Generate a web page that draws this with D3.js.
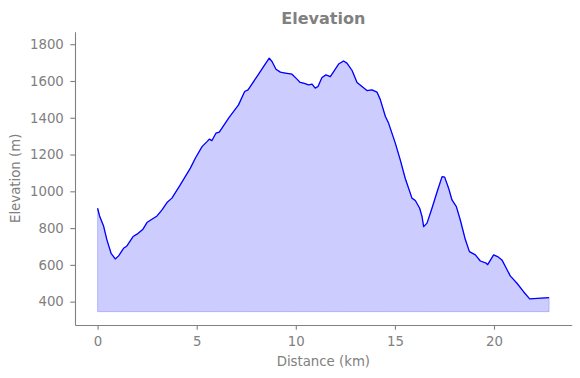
<!DOCTYPE html>
<html>
<head>
<meta charset="utf-8">
<script src="https://cdn.jsdelivr.net/npm/d3@7"></script>
<style>
  html, body { margin: 0; padding: 0; background: #fff; }
  svg { display: block; font-family: "DejaVu Sans", sans-serif; }
</style>
</head>
<body>
<svg id="chart" width="580" height="378"></svg>
<script>
// ─── data ─────────────────────────────────────────────────────────────────────
const distanceKm = [
  0, 0.1, 0.3, 0.47, 0.68, 0.89, 1.06, 1.31, 1.48, 1.79, 1.99, 2.29, 2.49, 2.74,
  3.0, 3.25, 3.5, 3.75, 4.17, 4.68, 4.93, 5.27, 5.52, 5.64, 5.77, 5.97, 6.14,
  6.61, 7.11, 7.42, 7.59, 8.04, 8.38, 8.66, 8.8, 9.0, 9.22, 9.47, 9.81, 10.06,
  10.22, 10.39, 10.65, 10.82, 10.98, 11.12, 11.32, 11.52, 11.74, 11.91, 12.16,
  12.41, 12.58, 12.84, 13.09, 13.34, 13.59, 13.84, 14.1, 14.26, 14.52, 14.68,
  15.02, 15.27, 15.52, 15.86, 16.03, 16.25, 16.37, 16.45, 16.62, 16.87, 17.13,
  17.38, 17.51, 17.71, 17.88, 18.1, 18.3, 18.55, 18.76, 19.06, 19.31, 19.61,
  19.68, 19.85, 19.98, 20.18, 20.4, 20.62, 20.82, 21.16, 21.49, 21.8, 22.78
];
const elevationM = [
  908, 866, 812, 736, 663, 632, 649, 690, 703, 754, 767, 794, 830, 848,
  866, 899, 939, 963, 1035, 1126, 1180, 1243, 1270, 1284, 1276, 1316, 1322,
  1398, 1470, 1543, 1552, 1624, 1679, 1724, 1706, 1664, 1648, 1643, 1637, 1610,
  1592, 1588, 1579, 1583, 1561, 1570, 1619, 1633, 1624, 1651, 1692,
  1709, 1697, 1657, 1592, 1570, 1548, 1552, 1539, 1500, 1407, 1371,
  1262, 1171, 1071, 963, 950, 908, 862, 808, 827, 908, 998,
  1080, 1077, 1017, 953, 917, 844, 739, 672, 654, 621, 609,
  601, 631, 654, 645, 627, 582, 540, 500, 454, 415, 422
];
const fillBase = 345.5;
const xTicks = [0, 5, 10, 15, 20];
const yTicks = [400, 600, 800, 1000, 1200, 1400, 1600, 1800];
const xDomain = [-1.14, 23.92];
const yDomain = [273, 1868];

// ─── layout ───────────────────────────────────────────────────────────────────
const W = 580, H = 378;
const margin = { left: 75, right: 8.3, top: 31.7, bottom: 53 };
const grey = "#808080";
const fontSize = 13.3;

const svg = d3.select("#chart");

const x = d3.scaleLinear().domain(xDomain).range([margin.left, W - margin.right]);
const y = d3.scaleLinear().domain(yDomain).range([H - margin.bottom, margin.top]);

const points = distanceKm.map((d, i) => ({ d, e: elevationM[i] }));

// filled area
const area = d3.area()
  .x(p => x(p.d))
  .y0(y(fillBase))
  .y1(p => y(p.e));

svg.append("path")
  .datum(points)
  .attr("d", area)
  .attr("fill", "rgba(0,0,255,0.2)")
  .attr("stroke", "rgba(0,0,255,0.2)")
  .attr("stroke-width", 1);

// profile line
const line = d3.line()
  .x(p => x(p.d))
  .y(p => y(p.e));

svg.append("path")
  .datum(points)
  .attr("d", line)
  .attr("fill", "none")
  .attr("stroke", "#0000ff")
  .attr("stroke-width", 1.3)
  .attr("stroke-linejoin", "round");

// ─── axes ─────────────────────────────────────────────────────────────────────
const xAxis = d3.axisBottom(x)
  .tickValues(xTicks)
  .tickFormat(d3.format("d"))
  .tickSizeInner(4.7)
  .tickSizeOuter(0)
  .tickPadding(7);

const yAxis = d3.axisLeft(y)
  .tickValues(yTicks)
  .tickFormat(d3.format("d"))
  .tickSizeInner(4.7)
  .tickSizeOuter(0)
  .tickPadding(6.5);

function styleAxis(g) {
  g.attr("font-family", "DejaVu Sans, sans-serif").attr("font-size", fontSize);
  g.select(".domain").attr("stroke", grey).attr("stroke-width", 1.1);
  g.selectAll(".tick line").attr("stroke", grey).attr("stroke-width", 1.1);
  g.selectAll(".tick text").attr("fill", grey);
}

svg.append("g")
  .attr("transform", `translate(0,${H - margin.bottom})`)
  .call(xAxis)
  .call(styleAxis);

svg.append("g")
  .attr("transform", `translate(${margin.left},0)`)
  .call(yAxis)
  .call(styleAxis);

// ─── labels ───────────────────────────────────────────────────────────────────
const cx = (margin.left + W - margin.right) / 2;
const cy = (margin.top + H - margin.bottom) / 2;

svg.append("text")
  .attr("x", cx).attr("y", 24)
  .attr("text-anchor", "middle")
  .attr("font-size", 16)
  .attr("font-weight", "bold")
  .attr("fill", grey)
  .text("Elevation");

svg.append("text")
  .attr("x", cx).attr("y", 366)
  .attr("text-anchor", "middle")
  .attr("font-size", fontSize)
  .attr("fill", grey)
  .text("Distance (km)");

svg.append("text")
  .attr("transform", `translate(20,${cy}) rotate(-90)`)
  .attr("text-anchor", "middle")
  .attr("font-size", fontSize)
  .attr("fill", grey)
  .text("Elevation (m)");
</script>
</body>
</html>
